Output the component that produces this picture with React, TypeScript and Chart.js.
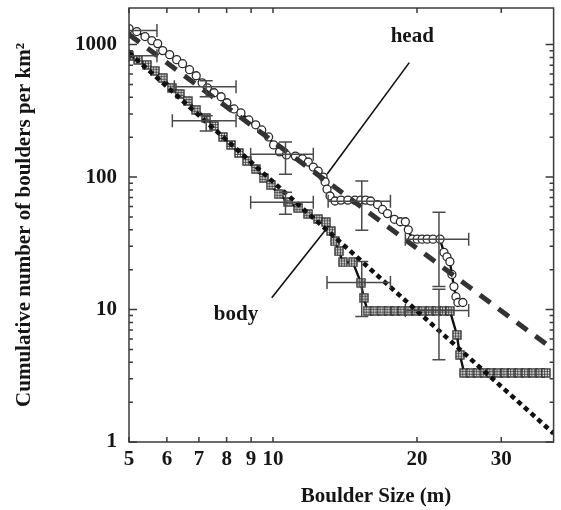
import React, { useEffect, useRef } from "react";
import { Chart, registerables } from "chart.js";
Chart.register(...registerables);

// ---------- data ----------
const headSize = [5.0, 5.19, 5.4, 5.58, 5.74, 5.88, 6.08, 6.29, 6.47, 6.69, 6.91, 7.11, 7.29, 7.53, 7.79, 8.01, 8.29, 8.57, 8.9, 9.2, 9.47, 9.79, 10.03, 10.32, 10.67, 11.14, 11.52, 11.85, 12.14, 12.43, 12.73, 12.85, 12.97, 13.16, 13.48, 13.87, 14.34, 14.83, 15.26, 15.62, 16.0, 16.54, 16.94, 17.35, 17.94, 18.46, 18.91, 19.18, 19.55, 20.02, 20.5, 21.0, 21.6, 22.34, 22.77, 23.1, 23.43, 23.66, 23.89, 24.12, 24.35, 24.94];
const headCount = [1321, 1255, 1150, 1072, 1018, 901, 840, 770, 718, 647, 582, 515, 472, 433, 404, 364, 327, 305, 270, 248, 227, 201, 175, 155, 147, 144, 137, 130, 119, 111, 100, 92, 81, 72, 66, 67, 67, 67, 67, 67, 66, 62, 57, 53, 48, 46, 46, 40, 34, 34, 34, 34, 34, 34, 27, 25, 23, 18.4, 14.9, 12.5, 11.3, 11.3];

const bodySize = [5.0, 5.22, 5.45, 5.66, 5.88, 6.14, 6.38, 6.63, 6.91, 7.25, 7.53, 7.86, 8.17, 8.49, 8.82, 9.2, 9.56, 9.89, 10.27, 10.77, 11.3, 11.85, 12.43, 12.91, 13.22, 13.48, 13.74, 14.0, 14.69, 15.26, 15.47, 15.77, 16.31, 16.86, 17.44, 18.03, 18.64, 19.28, 19.93, 20.6, 21.3, 22.03, 22.77, 23.43, 24.23, 24.58, 25.1, 25.9, 26.8, 27.7, 28.6, 29.6, 30.6, 31.6, 32.7, 33.8, 35.0, 36.2, 37.2];
const bodyCount = [825, 770, 705, 635, 562, 472, 425, 376, 322, 280, 243, 201, 175, 152, 132, 115, 98.3, 87, 74.3, 64.7, 58.2, 52.5, 48.1, 45.6, 39, 32.7, 27.5, 22.7, 22.7, 16, 12.3, 9.8, 9.8, 9.8, 9.8, 9.8, 9.8, 9.8, 9.8, 9.8, 9.8, 9.8, 9.8, 9.8, 6.46, 4.56, 3.33, 3.33, 3.33, 3.33, 3.33, 3.33, 3.33, 3.33, 3.33, 3.33, 3.33, 3.33, 3.33];

const headFitSize = [5, 38.6];
const headFitCount = [1191, 4.98];
const bodyFitSize = [5, 38.6];
const bodyFitCount = [870, 1.16];

// error bars
const headErrSize = [5.0, 7.25, 10.62, 15.33, 22.23];
const headErrCount = [1277, 481, 149, 65.8, 33.9];
const headErrSizeLo = [5.0, 6.22, 8.98, 13.04, 18.91];
const headErrSizeHi = [5.72, 8.37, 12.14, 17.6, 25.65];
const headErrCountLo = [1277, 404, 105, 39.7, 14.9];
const headErrCountHi = [1277, 534, 184, 93.3, 54.3];

const bodyErrSize = [5.0, 7.25, 10.62, 15.33, 22.23];
const bodyErrCount = [825, 266, 64.7, 16.0, 9.83];
const bodyErrSizeLo = [5.0, 6.16, 8.98, 12.97, 18.91];
const bodyErrSizeHi = [5.72, 8.37, 12.14, 17.6, 25.65];
const bodyErrCountLo = [825, 223, 52.5, 8.85, 4.18];
const bodyErrCountHi = [825, 290, 76.9, 23.1, 14.2];

// annotations
const labelTexts = ["head", "body"];
const labelSize = [19.55, 8.37];
const labelCount = [1148, 9.17];
const headPointerSize = [19.27, 12.97];
const headPointerCount = [731, 105];
const bodyPointerSize = [9.94, 12.91];
const bodyPointerCount = [12.3, 40.4];

const xTickValues = [5, 6, 7, 8, 9, 10, 20, 30];
const yTickValues = [1, 10, 100, 1000];
const yMinorValues = [2, 3, 4, 5, 6, 7, 8, 9, 20, 30, 40, 50, 60, 70, 80, 90, 200, 300, 400, 500, 600, 700, 800, 900];

const xTitle = "Boulder Size (m)";
const yTitle = "Cumulative number of boulders per km²";

const FONT = "'Liberation Serif', 'Times New Roman', serif";
const INK = "#151515";

const pts = (xs: number[], ys: number[]) => xs.map((x, i) => ({ x, y: ys[i] }));

function makeHatchedSquare() {
  const c = document.createElement("canvas");
  c.width = 10;
  c.height = 10;
  const g = c.getContext("2d")!;
  g.fillStyle = "#fff";
  g.fillRect(1, 1, 8, 8);
  g.strokeStyle = "#222";
  g.lineWidth = 1.3;
  g.strokeRect(1, 1, 8, 8);
  g.lineWidth = 0.9;
  g.strokeStyle = "#333";
  g.beginPath();
  [3.67, 6.33].forEach((p) => {
    g.moveTo(p, 1);
    g.lineTo(p, 9);
    g.moveTo(1, p);
    g.lineTo(9, p);
  });
  g.stroke();
  return c;
}

const frameTicksPlugin = {
  id: "frameTicks",
  afterDraw(chart: any) {
    const { ctx, chartArea: a, scales } = chart;
    const x = scales.x, y = scales.y;
    ctx.save();
    ctx.strokeStyle = "#3a3a3a";
    ctx.lineWidth = 1.5;
    ctx.strokeRect(a.left, a.top, a.right - a.left, a.bottom - a.top);
    ctx.beginPath();
    yTickValues.forEach((v) => {
      const py = y.getPixelForValue(v);
      ctx.moveTo(a.left, py); ctx.lineTo(a.left + 8, py);
      ctx.moveTo(a.right, py); ctx.lineTo(a.right - 8, py);
    });
    yMinorValues.forEach((v) => {
      const py = y.getPixelForValue(v);
      ctx.moveTo(a.left, py); ctx.lineTo(a.left + 4, py);
      ctx.moveTo(a.right, py); ctx.lineTo(a.right - 4, py);
    });
    xTickValues.forEach((v) => {
      const px = x.getPixelForValue(v);
      ctx.moveTo(px, a.bottom); ctx.lineTo(px, a.bottom - 5);
      ctx.moveTo(px, a.top); ctx.lineTo(px, a.top + 5);
    });
    ctx.stroke();
    ctx.restore();
  },
};

const errorBarPlugin = {
  id: "errorBars",
  afterDatasetsDraw(chart: any) {
    const { ctx, chartArea: a, scales } = chart;
    const x = scales.x, y = scales.y;
    ctx.save();
    ctx.beginPath();
    ctx.rect(a.left, a.top, a.right - a.left, a.bottom - a.top);
    ctx.clip();
    ctx.strokeStyle = "#4a4a4a";
    ctx.lineWidth = 1.5;
    const cap = 6.5;
    const draw = (cs: number[], cc: number[], sLo: number[], sHi: number[], cLo: number[], cHi: number[]) => {
      ctx.beginPath();
      cs.forEach((_, i) => {
        const px = x.getPixelForValue(cs[i]);
        const py = y.getPixelForValue(cc[i]);
        const xl = x.getPixelForValue(sLo[i]);
        const xr = x.getPixelForValue(sHi[i]);
        ctx.moveTo(xl, py); ctx.lineTo(xr, py);
        ctx.moveTo(xl, py - cap); ctx.lineTo(xl, py + cap);
        ctx.moveTo(xr, py - cap); ctx.lineTo(xr, py + cap);
        if (cLo[i] !== cHi[i]) {
          const yt = y.getPixelForValue(cHi[i]);
          const yb = y.getPixelForValue(cLo[i]);
          ctx.moveTo(px, yt); ctx.lineTo(px, yb);
          ctx.moveTo(px - cap, yt); ctx.lineTo(px + cap, yt);
          ctx.moveTo(px - cap, yb); ctx.lineTo(px + cap, yb);
        }
      });
      ctx.stroke();
    };
    draw(headErrSize, headErrCount, headErrSizeLo, headErrSizeHi, headErrCountLo, headErrCountHi);
    draw(bodyErrSize, bodyErrCount, bodyErrSizeLo, bodyErrSizeHi, bodyErrCountLo, bodyErrCountHi);
    ctx.restore();
  },
};

const textPlugin = {
  id: "texts",
  afterDraw(chart: any) {
    const { ctx, scales } = chart;
    const x = scales.x, y = scales.y;
    ctx.save();
    ctx.fillStyle = INK;
    ctx.font = `bold 21px ${FONT}`;
    ctx.textAlign = "center";
    ctx.textBaseline = "middle";
    labelTexts.forEach((t, i) => {
      ctx.fillText(t, x.getPixelForValue(labelSize[i]), y.getPixelForValue(labelCount[i]));
    });
    ctx.fillText(xTitle, 376, 497);
    ctx.restore();
  },
};

export default function App() {
  const ref = useRef<HTMLCanvasElement | null>(null);
  useEffect(() => {
    document.body.style.margin = "0";
    const square = makeHatchedSquare();
    const chart = new Chart(ref.current!, {
      type: "scatter",
      data: {
        datasets: [
          {
            data: pts(headFitSize, headFitCount),
            showLine: true,
            borderColor: "#333",
            borderWidth: 5,
            borderDash: [13, 10],
            pointRadius: 0,
            order: 0,
          },
          {
            data: pts(bodyFitSize, bodyFitCount),
            showLine: true,
            borderColor: "#111",
            borderWidth: 4.5,
            borderDash: [5, 4],
            pointRadius: 0,
            order: 0,
          },
          {
            data: pts(headSize, headCount),
            showLine: true,
            borderColor: "#111",
            borderWidth: 2.4,
            pointStyle: "circle",
            pointRadius: 4,
            pointBackgroundColor: "#fff",
            pointBorderColor: "#2a2a2a",
            pointBorderWidth: 1.3,
            order: 1,
          },
          {
            data: pts(bodySize, bodyCount),
            showLine: true,
            borderColor: "#111",
            borderWidth: 2.4,
            pointStyle: square as any,
            pointRadius: 5,
            order: 1,
          },
          {
            data: pts(headPointerSize, headPointerCount),
            showLine: true,
            borderColor: "#111",
            borderWidth: 1.6,
            pointRadius: 0,
            order: 2,
          },
          {
            data: pts(bodyPointerSize, bodyPointerCount),
            showLine: true,
            borderColor: "#111",
            borderWidth: 1.6,
            pointRadius: 0,
            order: 2,
          },
        ],
      },
      options: {
        animation: false,
        responsive: false,
        events: [],
        layout: { padding: { top: 8, right: 3, left: 0, bottom: 0 } },
        plugins: { legend: { display: false }, tooltip: { enabled: false } },
        scales: {
          x: {
            type: "logarithmic",
            min: 5,
            max: 38.6,
            grid: { display: false, drawTicks: false },
            border: { display: false },
            afterBuildTicks: (s: any) => {
              s.ticks = xTickValues.map((v) => ({ value: v }));
            },
            afterFit: (s: any) => {
              s.height = 68;
              s.paddingLeft = 0;
              s.paddingRight = 0;
            },
            ticks: {
              autoSkip: false,
              maxRotation: 0,
              padding: 5,
              color: INK,
              font: { family: FONT, size: 21, weight: "bold" },
              callback: (v: any) => String(v),
            },
          },
          y: {
            type: "logarithmic",
            min: 1,
            max: 1890,
            grid: { display: false, drawTicks: false },
            border: { display: false },
            afterBuildTicks: (s: any) => {
              s.ticks = yTickValues.map((v) => ({ value: v }));
            },
            afterFit: (s: any) => {
              s.width = 129;
              s.paddingTop = 0;
              s.paddingBottom = 0;
            },
            ticks: {
              padding: 12,
              color: INK,
              font: { family: FONT, size: 21, weight: "bold" },
              callback: (v: any) => String(v),
            },
            title: {
              display: true,
              text: yTitle,
              color: INK,
              font: { family: FONT, size: 21, weight: "bold" },
              padding: { top: 12, bottom: 0 },
            },
          },
        },
      },
      plugins: [frameTicksPlugin, errorBarPlugin, textPlugin],
    } as any);
    return () => chart.destroy();
  }, []);
  return (
    <div style={{ width: 561, height: 510, background: "#fff" }}>
      <canvas ref={ref} width={561} height={510} style={{ display: "block" }} />
    </div>
  );
}
